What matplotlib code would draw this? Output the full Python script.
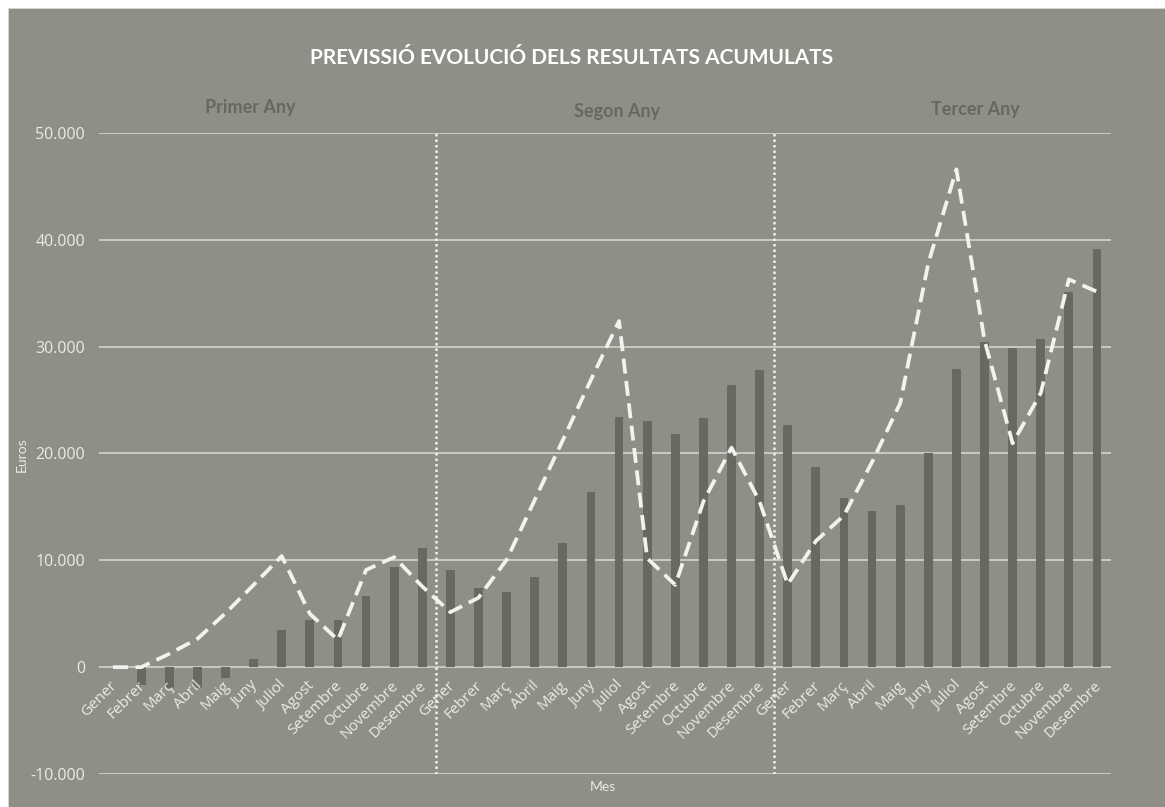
import matplotlib.pyplot as plt
import matplotlib.transforms as mtransforms
from matplotlib.patches import Rectangle
import numpy as np

# Data
months = ["Gener", "Febrer", "Març", "Abril", "Maig", "Juny", "Juliol",
          "Agost", "Setembre", "Octubre", "Novembre", "Desembre"]
labels = months * 3
years = ["Primer Any", "Segon Any", "Tercer Any"]

bars_y1 = [0, -1680, -1960, -1920, -1030, 780, 3500, 4380, 4440, 6690, 9350, 11160]
bars_y2 = [9060, 7440, 7060, 8440, 11600, 16440, 23440, 23060, 21840, 23310, 26380, 27810]
bars_y3 = [22650, 18770, 15810, 14650, 15160, 20000, 27900, 30480, 29840, 30710, 35160, 39100]

line_y1 = [0, 0, 1250, 2650, 5050, 7700, 10400, 5000, 2550, 9100, 10300, 7550]
line_y2 = [5150, 6500, 10050, 15650, 21250, 26900, 32400, 10200, 7700, 15500, 20550, 15500]
line_y3 = [7750, 11800, 14200, 19200, 24700, 37800, 46600, 30600, 20950, 25650, 36300, 35150]

bars = bars_y1 + bars_y2 + bars_y3
line = line_y1 + line_y2 + line_y3

BG = "#8f8f87"
BAR = "#686960"
LIGHT = "#ebebe7"
DARK = "#68685f"
TICKFONT = ["Open Sans", "DejaVu Sans"]

W, H = 1165, 807
fig = plt.figure(figsize=(W / 100, H / 100), dpi=100)
fig.patch.set_facecolor("white")
fig.patches.append(Rectangle((8 / W, 0), 1 - 8 / W, 1 - 8 / H, transform=fig.transFigure,
                             facecolor=BG, edgecolor="#d8d8d8", lw=0.6, zorder=-10))

ax = fig.add_axes([99 / W, 1 - 774 / H, 1012 / W, 641 / H])
ax.set_facecolor("none")

x = np.arange(len(labels))
ax.bar(x, bars, width=0.31, color=BAR, zorder=2)
ln, = ax.plot(x, line, color="#f2f2ee", lw=2.7, zorder=3)
ln.set_dashes([4, 2])

ax.set_xlim(-0.5, len(labels) - 0.5)
ax.set_ylim(-10000, 50000)
yt = np.arange(-10000, 50001, 10000)
ax.set_yticks(yt)
ax.set_yticklabels(["{:,}".format(v).replace(",", ".") for v in yt],
                   fontsize=11.5, color=LIGHT, family=TICKFONT)
ax.tick_params(axis="y", length=0, pad=10)
ax.set_xticks([])
for v in yt:
    ax.axhline(v, color="#d9d9d6", lw=1.1, zorder=1)
for s in ax.spines.values():
    s.set_visible(False)

# dotted separators between years
for sep in [11.5, 23.5]:
    ax.axvline(sep, color="#f0f0ec", lw=1.8, linestyle=(0, (1, 1.2)), zorder=4)

# month labels next to the zero axis
trans = mtransforms.offset_copy(ax.transData, fig=fig, x=2, y=-16, units="dots")
for i, lab in enumerate(labels):
    ax.text(i, 0, lab, transform=trans, rotation=45, rotation_mode="anchor",
            ha="right", va="center", fontsize=11, color=LIGHT, family=TICKFONT)

fig.text(572 / W, 1 - 58 / H, "PREVISSIÓ EVOLUCIÓ DELS RESULTATS ACUMULATS",
         ha="center", va="center", fontsize=15, fontweight="bold", color="white", family="Lato")
for (px, py), name in zip([(250, 108), (617, 112), (975, 110)], years):
    fig.text(px / W, 1 - py / H, name, ha="center", va="center", fontsize=13,
             fontweight="bold", color=DARK, family="Lato")

fig.text(22 / W, 1 - 455 / H, "Euros", rotation=90, ha="center", va="center",
         fontsize=10, color=LIGHT, family="Lato")
fig.text(603 / W, 1 - 787 / H, "Mes", ha="center", va="center",
         fontsize=10, color=LIGHT, family="Lato")

fig.savefig("out.png", dpi=100, facecolor=fig.get_facecolor())
